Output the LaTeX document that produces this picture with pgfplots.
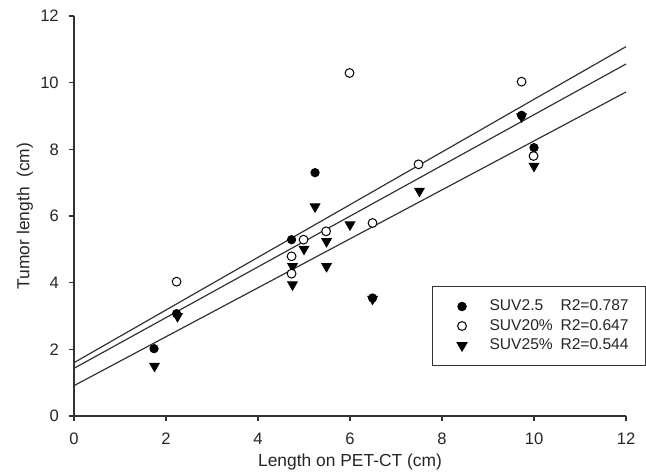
\documentclass[border=0pt]{standalone}
\usepackage{fontspec}
\setmainfont{Liberation Sans}
\usepackage{pgfplots}
\pgfplotsset{compat=1.18}
\pgfplotsset{mylegimg/.style={legend image code/.code={\path (-12.5pt,0pt) (2.3pt,0pt); \draw[##1] plot coordinates {(0pt,0pt)};}},
  sfilled/.style={only marks, mark=*, mark size=2.1pt, mark options={fill=black, draw=black}},
  sopen/.style={only marks, mark=*, mark size=2.2pt, mark options={fill=white, draw=black, line width=0.5pt}},
  stri/.style={only marks, mark=triangle*, mark size=2.8pt, mark options={rotate=180, fill=black, draw=black}}}
\begin{document}
\begin{tikzpicture}
\useasboundingbox (-37pt,-29.5pt) rectangle (286pt,208pt);
\begin{axis}[
  at={(0pt,0pt)}, anchor=south west,
  width=276pt, height=200pt, scale only axis,
  xmin=0, xmax=12, ymin=0, ymax=12,
  axis lines=left,
  axis line style={-, line width=0.8pt, black!80},
  xtick={0,2,...,12}, ytick={0,2,...,12},
  tick align=outside, major tick length=2.5pt,
  tick style={line width=0.8pt, black!80},
  minor tick num=0,
  clip=false,
  tick label style={font=\fontsize{8.3}{10}\selectfont, /pgf/number format/assume math mode=true, text=black!85},
  xticklabel style={yshift=-2.6pt},
  yticklabel style={xshift=-1.6pt},
  xlabel={Length on PET-CT (cm)},
  ylabel={Tumor length~~(cm)},
  label style={font=\fontsize{8.7}{10}\selectfont, text=black!85},
  xlabel style={at={(axis description cs:0.5,-0.115)}, anchor=center},
  ylabel style={at={(axis description cs:-0.089,0.5)}, anchor=center},
  legend style={at={(axis description cs:0.6486,0.325)}, anchor=north west,
    draw=black!80, line width=0.5pt, inner xsep=2pt, inner ysep=6.45pt,
    row sep=2.65pt, column sep=9.2pt,
    font=\fontsize{7.8}{9}\selectfont,
    nodes={inner xsep=2pt, inner ysep=0pt, text height=5.6pt, text depth=1.5pt, text=black!85}},
]
% regression lines
\addplot[forget plot, black!80, line width=0.6pt] coordinates {(0,1.60) (12,11.08)};
\addplot[forget plot, black!80, line width=0.6pt] coordinates {(0,1.43) (12,10.56)};
\addplot[forget plot, black!80, line width=0.6pt] coordinates {(0,0.91) (12,9.72)};
% SUV25%
\addplot[forget plot, stri] coordinates {
(1.75,1.50) (2.25,2.99) (4.75,4.49) (4.75,3.94) (5.0,5.01) (5.24,6.28) (5.49,5.24) (5.49,4.49) (6.0,5.74) (6.49,3.51) (7.51,6.75) (10.0,7.50) (9.73,8.98)};
% SUV20%
\addplot[forget plot, sopen] coordinates {
(2.23,4.03) (4.73,4.79) (4.73,4.27) (4.99,5.29) (5.48,5.54) (5.99,10.29) (6.49,5.79) (7.49,7.55) (9.73,10.03) (9.99,7.80)};
% SUV2.5
\addplot[forget plot, sfilled] coordinates {
(1.74,2.02) (2.23,3.07) (4.73,5.29) (5.24,7.30) (6.49,3.54) (9.73,9.02) (10.0,8.05)};
% legend
\addlegendimage{sfilled, mylegimg}
\addlegendentry{\makebox[35.5pt][l]{SUV2.5}\makebox[38.5pt][l]{R2=0.787}}
\addlegendimage{sopen, mylegimg}
\addlegendentry{\makebox[35.5pt][l]{SUV20\%}\makebox[38.5pt][l]{R2=0.647}}
\addlegendimage{stri, mylegimg}
\addlegendentry{\makebox[35.5pt][l]{SUV25\%}\makebox[38.5pt][l]{R2=0.544}}
\end{axis}
\end{tikzpicture}
\end{document}
